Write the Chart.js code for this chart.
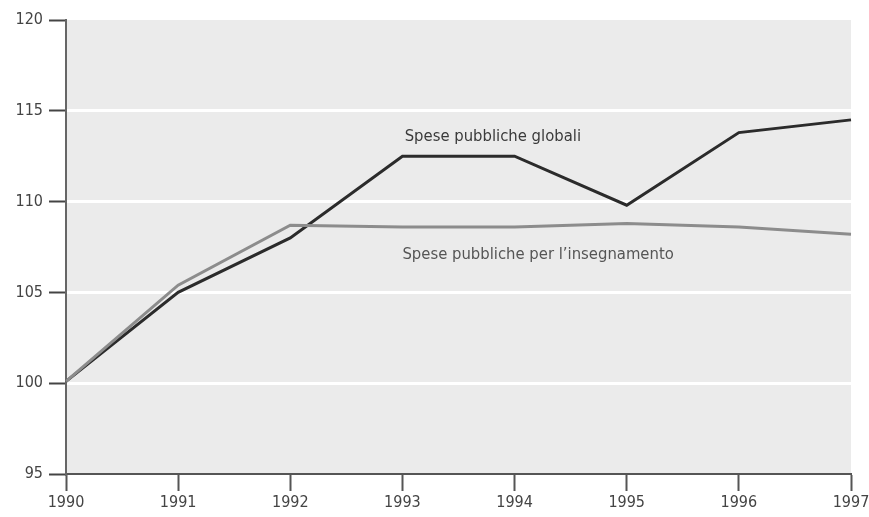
<!DOCTYPE html>
<html>
<head>
<meta charset="utf-8">
<script src="https://cdn.jsdelivr.net/npm/chart.js@4"></script>
<style>
  html, body { margin: 0; padding: 0; background: #fff; }
  #wrap { width: 869px; height: 517px; }
</style>
</head>
<body>
<div id="wrap"><canvas id="grafico"></canvas></div>
<script>
// dati
const ANNI = ['1990', '1991', '1992', '1993', '1994', '1995', '1996', '1997'];
const SPESE_GLOBALI = [100.1, 105.0, 108.0, 112.5, 112.5, 109.8, 113.8, 114.5];
const SPESE_INSEGNAMENTO = [100.1, 105.4, 108.7, 108.6, 108.6, 108.8, 108.6, 108.2];
const Y_TICKS = [95, 100, 105, 110, 115, 120];
const ETICHETTE = [
    { testo: 'Spese pubbliche globali', x: 3.02, y: 113.55, colore: '#3a3a3a' },
    { testo: 'Spese pubbliche per l\u2019insegnamento', x: 3.0, y: 107.05, colore: '#555' }
];

const FONT = '"Liberation Sans Narrow", "DejaVu Sans Condensed", sans-serif';

// sfondo grigio dell'area del grafico
const sfondoPlugin = {
    id: 'sfondo',
    beforeDraw(chart) {
        const { ctx, chartArea: a } = chart;
        ctx.save();
        ctx.fillStyle = '#ebebeb';
        ctx.fillRect(a.left, a.top, a.right - a.left, a.bottom - a.top);
        ctx.restore();
    }
};

// etichette delle serie dentro il grafico
const etichettePlugin = {
    id: 'etichette',
    afterDatasetsDraw(chart) {
        const { ctx, scales } = chart;
        ctx.save();
        ctx.font = '16.5px ' + FONT;
        ctx.textBaseline = 'middle';
        ctx.textAlign = 'left';
        ETICHETTE.forEach(e => {
            ctx.fillStyle = e.colore;
            ctx.fillText(e.testo, scales.x.getPixelForValue(e.x), scales.y.getPixelForValue(e.y));
        });
        ctx.restore();
    }
};

new Chart(document.getElementById('grafico'), {
    type: 'line',
    data: {
        labels: ANNI,
        datasets: [
            { label: 'Spese pubbliche per l\u2019insegnamento', data: SPESE_INSEGNAMENTO, borderColor: '#8c8c8c', borderWidth: 3, pointRadius: 0, tension: 0, fill: false },
            { label: 'Spese pubbliche globali', data: SPESE_GLOBALI, borderColor: '#2b2b2b', borderWidth: 3, pointRadius: 0, tension: 0, fill: false }
        ]
    },
    options: {
        responsive: true,
        maintainAspectRatio: false,
        animation: false,
        layout: { padding: { top: 20, right: 18, left: 0, bottom: 0 } },
        plugins: { legend: { display: false }, tooltip: { enabled: false } },
        scales: {
            x: {
                type: 'category',
                offset: false,
                border: { display: true, color: '#555', width: 2 },
                grid: { drawOnChartArea: false, tickColor: '#555', tickLength: 17, tickWidth: 2 },
                ticks: { color: '#444', font: { family: FONT, size: 16 }, padding: 2, maxRotation: 0 },
                afterFit(s) { s.height = 43; s.paddingLeft = 0; s.paddingRight = 0; }
            },
            y: {
                min: 95,
                max: 120,
                border: { display: true, color: '#666', width: 2 },
                grid: {
                    color: ctx => (ctx.tick && (ctx.tick.value === 95 || ctx.tick.value === 120)) ? 'rgba(0,0,0,0)' : '#ffffff',
                    lineWidth: 3,
                    tickColor: '#444',
                    tickLength: 17,
                    tickWidth: 2
                },
                afterBuildTicks(s) { s.ticks = Y_TICKS.map(v => ({ value: v })); },
                ticks: { color: '#444', font: { family: FONT, size: 16 }, padding: 6 },
                afterFit(s) { s.width = 66; s.paddingTop = 0; s.paddingBottom = 0; }
            }
        }
    },
    plugins: [sfondoPlugin, etichettePlugin]
});
</script>
</body>
</html>
